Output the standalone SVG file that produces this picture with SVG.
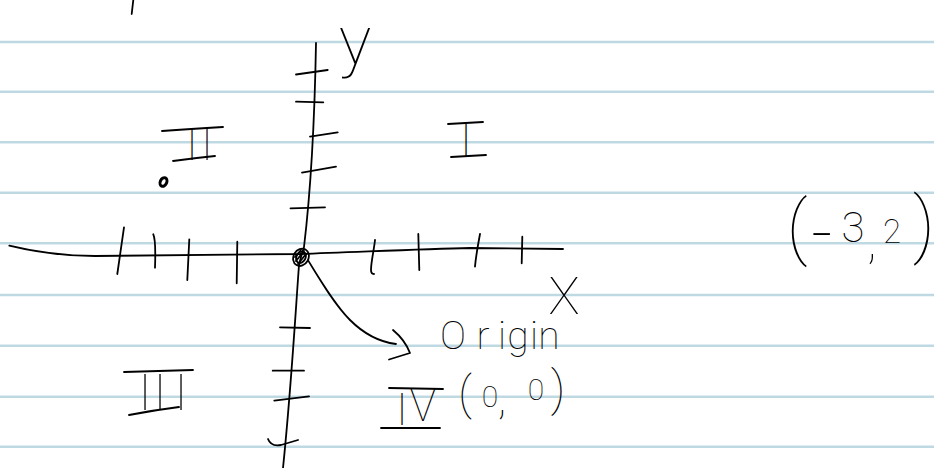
<svg xmlns="http://www.w3.org/2000/svg" width="934" height="468" viewBox="0 0 934 468">
<style>
.rule{stroke:#bfd9e3;stroke-width:2.5;fill:none}
.ink{stroke:#000;stroke-width:1.8;fill:none;stroke-linecap:round;stroke-linejoin:round}
.hw{font-family:"Roboto","Liberation Sans",sans-serif;font-weight:100;fill:#000}
.mid{text-anchor:middle}
</style>
<rect width="934" height="468" fill="#fff"/>
<g id="paper">
<line class="rule" x1="0" y1="42" x2="934" y2="42"/>
<line class="rule" x1="0" y1="91.7" x2="934" y2="91.7"/>
<line class="rule" x1="0" y1="142.3" x2="934" y2="142.3"/>
<line class="rule" x1="0" y1="192.7" x2="934" y2="192.7"/>
<line class="rule" x1="0" y1="243.3" x2="934" y2="243.3"/>
<line class="rule" x1="0" y1="295" x2="934" y2="295"/>
<line class="rule" x1="0" y1="345.7" x2="934" y2="345.7"/>
<line class="rule" x1="0" y1="396.7" x2="934" y2="396.7"/>
<line class="rule" x1="0" y1="446.7" x2="934" y2="446.7"/>
</g>
<g id="fragment">
<path class="ink" d="M133.3,0 L131.7,14"/>
</g>
<g id="y-axis">
<path class="ink" d="M316,43 C315,100 312,180 304,247 L301,257 L299,265 C295,320 291,390 283,468"/>
<path class="ink" d="M296,74.5 L327.7,70"/>
<path class="ink" d="M296,101.7 L323.3,102.3"/>
<path class="ink" d="M310,136.7 L337.7,132.3"/>
<path class="ink" d="M302,172.7 L336,166.7"/>
<path class="ink" d="M290.5,208.3 L325,207.3"/>
<path class="ink" d="M280,327.3 L310,328"/>
<path class="ink" d="M272.7,370.7 L304,370.7"/>
<path class="ink" d="M274.3,400.7 L309,396.3"/>
<path class="ink" d="M268,439 Q271,447 281,445 L298,440"/>
</g>
<g id="x-axis">
<path class="ink" d="M9.3,245.7 C35,252 60,256 95,256 L300,254 C360,252 420,249 470,248 L563,249"/>
<path class="ink" d="M124,227.3 L117.3,274"/>
<path class="ink" d="M153.3,234.3 Q156,240 155,267.7"/>
<path class="ink" d="M189.3,239.3 L187.3,280"/>
<path class="ink" d="M237.3,241.7 L236.7,283.3"/>
<path class="ink" d="M375,240 C374,250 371,262 371,270 Q371,274 374,274"/>
<path class="ink" d="M418.3,234 L419.3,270"/>
<path class="ink" d="M480,234 C478,245 476,255 475,266.7"/>
<path class="ink" d="M522.3,236.7 L521.7,263.3"/>
</g>
<g id="origin-point">
<ellipse class="ink" cx="301" cy="257.3" rx="7.5" ry="9" transform="rotate(30 301 257.3)" stroke-width="2"/>
<ellipse class="ink" cx="301" cy="257.3" rx="4.5" ry="6" transform="rotate(30 301 257.3)" stroke-width="1.5"/>
<path class="ink" d="M296,261 L304,251 M298,264 L306,254 M295,257 L301,250" stroke-width="1.4"/>
</g>
<g id="plotted-point">
<ellipse cx="163.5" cy="182" rx="3.2" ry="4.5" transform="rotate(25 163.5 182)" fill="none" stroke="#000" stroke-width="3"/>
</g>
<g id="connectors">
<path class="ink" d="M308.3,260.7 C320,280 335,305 350,320 C365,335 380,342 396,344"/>
<path class="ink" d="M393,330 Q405,340 410,353 L389,359.5"/>
</g>
<g id="label-y">
<text class="hw mid" x="355" y="64" font-size="68">y</text>
</g>
<g id="label-x">
<text class="hw mid" x="564" y="314" font-size="52">X</text>
</g>
<g id="quadrant-I">
<path class="ink" d="M448,124 Q465,123 483,122"/>
<path class="ink" d="M451,157 Q468,156 486,155"/>
<text class="hw mid" x="466" y="157" font-size="46">I</text>
</g>
<g id="quadrant-II">
<path class="ink" d="M162,131 Q190,129 223,127"/>
<path class="ink" d="M173,161 Q195,158 215,156"/>
<text class="hw mid" x="192 207" y="160" font-size="44">II</text>
</g>
<g id="quadrant-III">
<path class="ink" d="M124,372 L193,370"/>
<path class="ink" d="M129,415 Q155,410 179,407"/>
<text class="hw mid" x="145 160 181" y="410" font-size="50">III</text>
</g>
<g id="quadrant-IV">
<path class="ink" d="M389,388 L443,389"/>
<path class="ink" d="M381,428 L440,428"/>
<text class="hw mid" x="402 423" y="425 421" font-size="44">IV</text>
</g>
<g id="label-origin">
<text class="hw mid" x="453 483 502 518 534 549" y="349" font-size="39">Origin</text>
</g>
<g id="label-zero">
<text class="hw mid"><tspan x="465" y="409" font-size="46">(</tspan><tspan x="490" y="407" font-size="30">0</tspan><tspan x="502" y="414" font-size="46">,</tspan><tspan x="536" y="400" font-size="30"> </tspan><tspan x="536" y="400" font-size="30">0</tspan><tspan x="558" y="405" font-size="48">)</tspan></text>
</g>
<g id="label-point">
<text class="hw mid"><tspan x="797" y="251" font-size="70">(</tspan><tspan x="822" y="258" font-size="72">-</tspan><tspan x="853" y="242" font-size="42">3</tspan><tspan x="872" y="258" font-size="50">,</tspan><tspan x="892" y="243" font-size="33">2</tspan><tspan x="924" y="249" font-size="72">)</tspan></text>
</g>
</svg>
